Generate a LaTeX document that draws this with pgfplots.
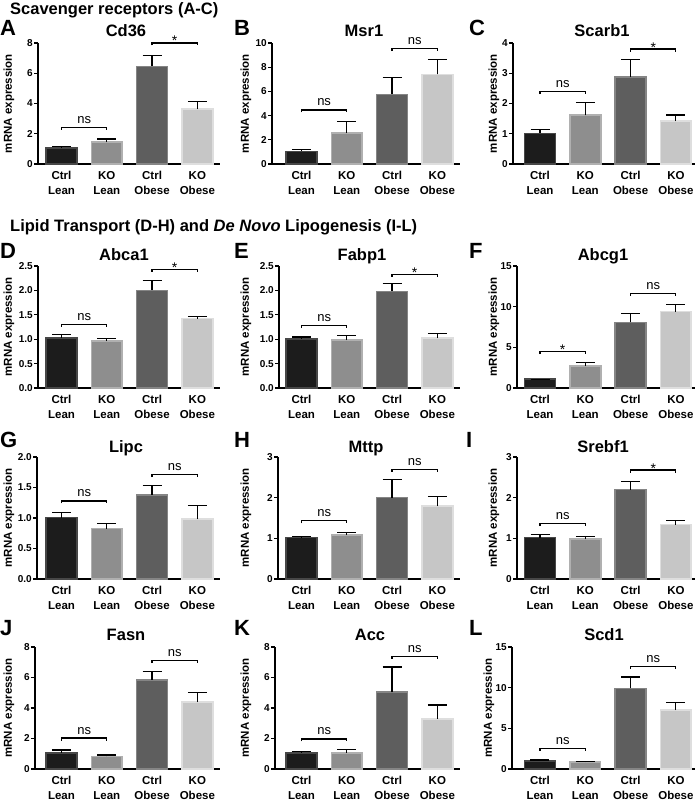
\documentclass[border=0pt]{standalone}
\usepackage{fontspec}
\setmainfont{Liberation Sans}
\usepackage{pgfplots}
\pgfplotsset{compat=1.18}
\definecolor{fA}{HTML}{1C1C1C}\definecolor{dA}{HTML}{474747}
\definecolor{fB}{HTML}{8E8E8E}\definecolor{dB}{HTML}{B0B0B0}
\definecolor{fC}{HTML}{5E5E5E}\definecolor{dC}{HTML}{858585}
\definecolor{fD}{HTML}{C6C6C6}\definecolor{dD}{HTML}{DEDEDE}
\pgfplotsset{
 panel/.style={
  scale only axis, height=122pt,
  axis lines=left, axis line style={-, line width=1.3pt},
  clip=false, ymin=0, xmax=3.5,
  xtick={0,1,2,3},
  xticklabels={{Ctrl\\Lean},{KO\\Lean},{Ctrl\\Obese},{KO\\Obese}},
  xtick style={draw=none},
  ytick style={line width=1.2pt, black},
  tick align=outside, major tick length=4pt,
  xticklabel style={align=center, font=\fontsize{11.5}{14.5}\selectfont\bfseries},
  yticklabel style={font=\fontsize{10}{10}\selectfont\bfseries, inner sep=1pt},
  /pgf/number format/assume math mode=true,
  anchor=south west,
 },
 onedec/.style={/pgf/number format/fixed, /pgf/number format/fixed zerofill, /pgf/number format/precision=1},
 gbar/.style 2 args={ybar, bar width=0.68, bar shift=0pt, fill=#1, draw=#2, line width=1.6pt,
   error bars/.cd, y dir=plus, y explicit,
   error bar style={black, line width=1.2pt},
   error mark options={rotate=90, black, line width=1.2pt, mark size=9.5pt}},
}
\newcommand{\fourbars}[8]{%
 \addplot[gbar={fA}{dA}] coordinates {(0,#1) +- (0,#2)};
 \addplot[gbar={fB}{dB}] coordinates {(1,#3) +- (0,#4)};
 \addplot[gbar={fC}{dC}] coordinates {(2,#5) +- (0,#6)};
 \addplot[gbar={fD}{dD}] coordinates {(3,#7) +- (0,#8)};
}
\newcommand{\brline}[2]{%
 \draw[line width=1.2pt] ([yshift=-2.5pt]axis cs:#1,#2) -- (axis cs:#1,#2) -- (axis cs:#1+1,#2) -- ([yshift=-2.5pt]axis cs:#1+1,#2);}
\newcommand{\nsb}[2]{%
 \brline{#1}{#2}
 \node[anchor=base, font=\fontsize{13}{14}\selectfont, inner sep=0pt] at ([yshift=4pt]axis cs:#1+0.5,#2) {ns};
}
\newcommand{\stb}[2]{%
 \brline{#1}{#2}
 \node[anchor=base, font=\fontsize{14}{14}\selectfont, inner sep=0pt] at ([yshift=-3pt]axis cs:#1+0.5,#2) {*};
}
\newcommand{\ttl}[3]{\node[anchor=base, font=\fontsize{16.5}{18}\selectfont\bfseries, inner sep=0pt] at (#1pt,#2pt) {#3};}
\newcommand{\ltr}[3]{\node[anchor=base west, font=\fontsize{22}{24}\selectfont\bfseries, inner sep=0pt] at (#1pt,#2pt) {#3};}
\newcommand{\ylab}[2]{\node[rotate=90, font=\fontsize{11.5}{13}\selectfont\bfseries, inner sep=0pt] at (#1pt,#2pt) {mRNA expression};}
\begin{document}
\begin{tikzpicture}
\useasboundingbox (0pt,0pt) rectangle (700pt,803pt);
% headings
\node[anchor=base west, font=\fontsize{16.5}{18}\selectfont\bfseries, inner sep=0pt] at (10pt,788pt) {Scavenger receptors (A-C)};
\node[anchor=base west, font=\fontsize{16.5}{18}\selectfont\bfseries, inner sep=0pt] at (10pt,571pt) {Lipid Transport (D-H) and \textit{De Novo} Lipogenesis (I-L)};
% ---------- Row 1 ----------
\begin{axis}[panel, at={(38pt,639pt)}, height=121pt, width=182pt, xmin=-0.519, ymax=8, ytick={0,2,4,6,8}]
\fourbars{1.05}{0.10}{1.45}{0.20}{6.45}{0.72}{3.63}{0.50}
\nsb{0}{2.42}
\stb{2}{8.0}
\end{axis}
\begin{axis}[panel, at={(272pt,639pt)}, height=121pt, width=188pt, xmin=-0.651, ymax=10, ytick={0,2,4,6,8,10}]
\fourbars{1.04}{0.14}{2.55}{0.95}{5.75}{1.37}{7.4}{1.23}
\nsb{0}{4.47}
\nsb{2}{9.53}
\end{axis}
\begin{axis}[panel, at={(513pt,639pt)}, height=121pt, width=182pt, xmin=-0.596, xmax=3.422, ymax=4, ytick={0,1,2,3,4}]
\fourbars{1.01}{0.14}{1.61}{0.41}{2.87}{0.58}{1.42}{0.20}
\nsb{0}{2.39}
\stb{2}{3.8}
\end{axis}
% ---------- Row 2 ----------
\begin{axis}[panel, onedec, at={(38pt,415pt)}, width=182pt, xmin=-0.519, ymax=2.5, ytick={0,0.5,1,1.5,2,2.5}]
\fourbars{1.02}{0.07}{0.96}{0.06}{2.0}{0.21}{1.42}{0.05}
\nsb{0}{1.30}
\stb{2}{2.43}
\end{axis}
\begin{axis}[panel, onedec, at={(279pt,415pt)}, width=181pt, xmin=-0.497, ymax=2.5, ytick={0,0.5,1,1.5,2,2.5}]
\fourbars{1.01}{0.035}{0.98}{0.09}{1.98}{0.16}{1.02}{0.09}
\nsb{0}{1.28}
\stb{2}{2.33}
\end{axis}
\begin{axis}[panel, at={(517pt,415pt)}, width=178pt, xmin=-0.508, xmax=3.422, ymax=15, ytick={0,5,10,15}]
\fourbars{1.07}{0}{2.7}{0.4}{8.07}{1.13}{9.39}{0.86}
\stb{0}{4.47}
\nsb{2}{11.6}
\end{axis}
% ---------- Row 3 ----------
\begin{axis}[panel, onedec, at={(37pt,224pt)}, width=183pt, xmin=-0.541, ymax=2, ytick={0,0.5,1,1.5,2}]
\fourbars{1.005}{0.085}{0.825}{0.085}{1.38}{0.15}{0.98}{0.23}
\nsb{0}{1.28}
\nsb{2}{1.71}
\end{axis}
\begin{axis}[panel, at={(278pt,224pt)}, width=182pt, xmin=-0.519, ymax=3, ytick={0,1,2,3}]
\fourbars{1.02}{0.03}{1.08}{0.07}{2.0}{0.44}{1.79}{0.24}
\nsb{0}{1.43}
\nsb{2}{2.70}
\end{axis}
\begin{axis}[panel, at={(517pt,224pt)}, width=178pt, xmin=-0.508, xmax=3.422, ymax=3, ytick={0,1,2,3}]
\fourbars{1.02}{0.08}{0.98}{0.06}{2.2}{0.2}{1.34}{0.09}
\nsb{0}{1.36}
\stb{2}{2.68}
\end{axis}
% ---------- Row 4 ----------
\begin{axis}[panel, at={(35pt,34pt)}, width=185pt, xmin=-0.585, ymax=8, ytick={0,2,4,6,8}]
\fourbars{1.05}{0.2}{0.83}{0.09}{5.84}{0.56}{4.39}{0.64}
\nsb{0}{2.03}
\nsb{2}{7.1}
\end{axis}
\begin{axis}[panel, at={(275pt,34pt)}, width=185pt, xmin=-0.585, ymax=8, ytick={0,2,4,6,8}]
\fourbars{1.05}{0.11}{1.05}{0.22}{5.03}{1.66}{3.28}{0.92}
\nsb{0}{1.97}
\nsb{2}{7.39}
\end{axis}
\begin{axis}[panel, at={(512pt,34pt)}, width=183pt, xmin=-0.618, xmax=3.422, ymax=15, ytick={0,5,10,15}]
\fourbars{0.99}{0.11}{0.83}{0.12}{9.92}{1.38}{7.23}{0.99}
\nsb{0}{2.56}
\nsb{2}{12.6}
\end{axis}
% titles
\ttl{126}{766}{Cd36}\ttl{364}{766}{Msr1}\ttl{602}{766}{Scarb1}
\ttl{124}{542}{Abca1}\ttl{362}{542}{Fabp1}\ttl{603}{542}{Abcg1}
\ttl{126}{350}{Lipc}\ttl{366}{350}{Mttp}\ttl{603}{350}{Srebf1}
\ttl{126}{162}{Fasn}\ttl{370}{162}{Acc}\ttl{604}{162}{Scd1}
% letters
\ltr{0}{767}{A}\ltr{234}{767}{B}\ltr{469}{767}{C}
\ltr{0}{544}{D}\ltr{234}{544}{E}\ltr{469}{544}{F}
\ltr{0}{355}{G}\ltr{234}{355}{H}\ltr{466}{355}{I}
\ltr{0}{167}{J}\ltr{234}{167}{K}\ltr{469}{167}{L}
% y labels
\ylab{9}{699.5}\ylab{246}{699.5}\ylab{494}{699.5}
\ylab{9}{476}\ylab{246}{476}\ylab{494}{476}
\ylab{9}{285}\ylab{246}{285}\ylab{494}{285}
\ylab{9}{95}\ylab{246}{95}\ylab{489}{95}
\end{tikzpicture}
\end{document}
